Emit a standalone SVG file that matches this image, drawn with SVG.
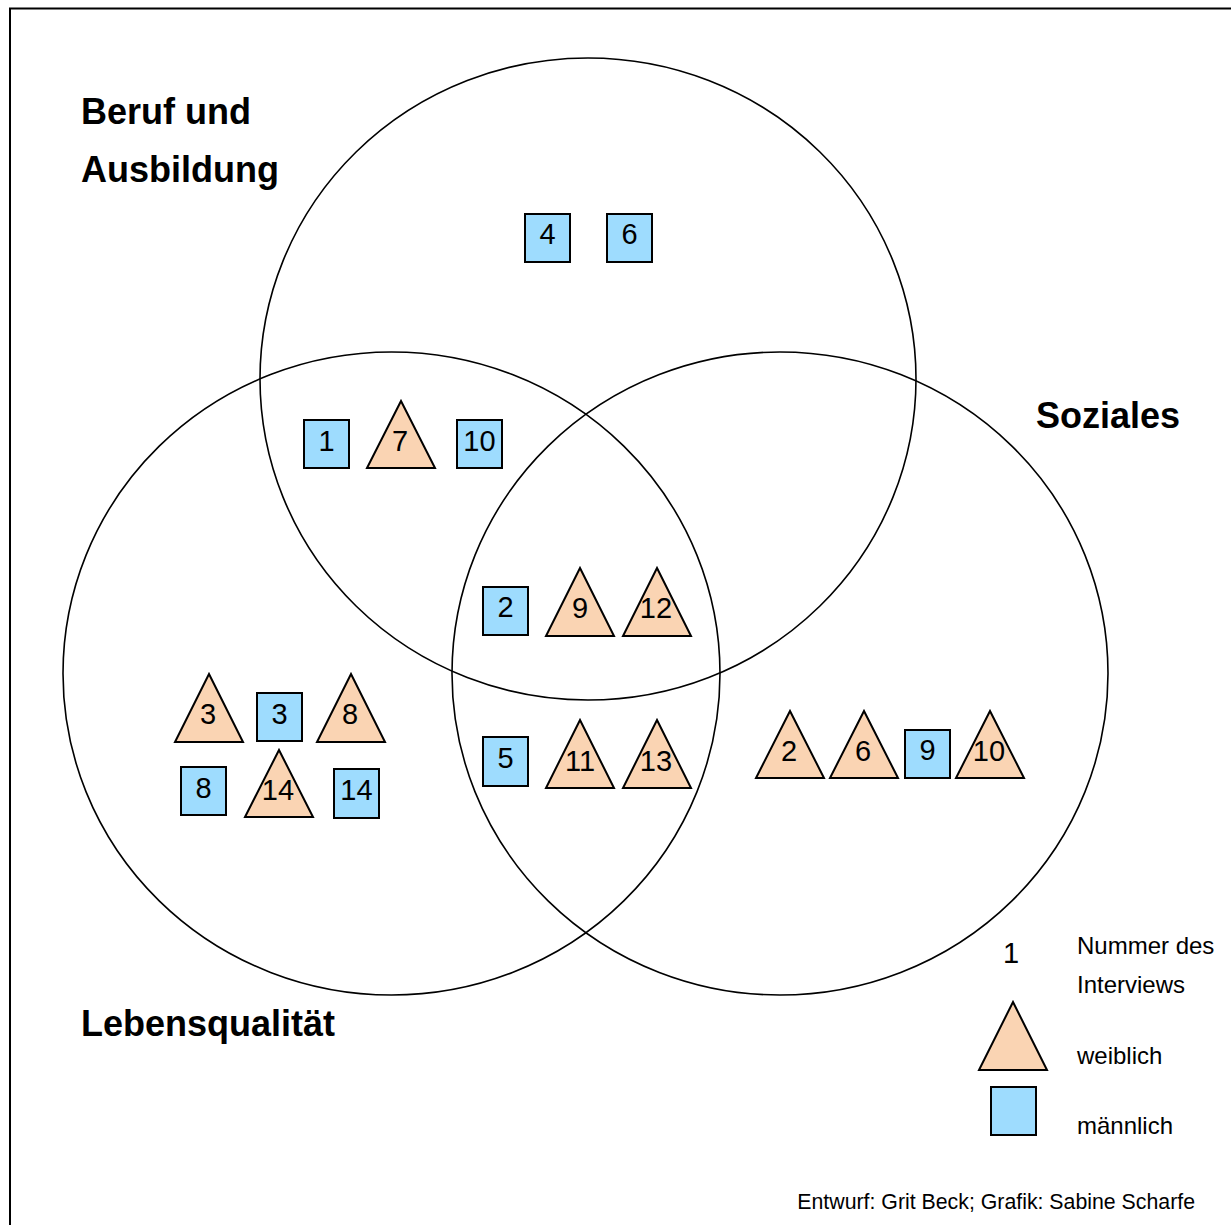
<svg xmlns="http://www.w3.org/2000/svg" width="1231" height="1225" viewBox="0 0 1231 1225">
<defs>
<style>
.frame{fill:none;stroke:#000;stroke-width:2}
.circ{fill:none;stroke:#000;stroke-width:1.6}
.w{fill:#fad4b3;stroke:#000;stroke-width:2;stroke-linejoin:miter}
.m{fill:#9edcfe;stroke:#000;stroke-width:2}
.num{font-family:"Liberation Sans",Arial,sans-serif;font-size:29px;fill:#000;text-anchor:middle}
.title{font-family:"Liberation Sans",Arial,sans-serif;font-size:36px;font-weight:bold;fill:#000}
.leg{font-family:"Liberation Sans",Arial,sans-serif;font-size:24px;fill:#000}
.foot{font-family:"Liberation Sans",Arial,sans-serif;font-size:21.3px;fill:#000;text-anchor:end}
</style>
</defs>
<rect width="1231" height="1225" fill="#fff"/>
<path class="frame" d="M10,1226 V8.5 H1232"/>
<g id="circles">
<ellipse id="c-beruf" class="circ" cx="588" cy="379" rx="328" ry="321"/>
<ellipse id="c-leben" class="circ" cx="391.5" cy="673.5" rx="328.5" ry="321.5"/>
<ellipse id="c-sozial" class="circ" cx="780" cy="673.5" rx="328" ry="321.5"/>
</g>
<g id="titles">
<text class="title" x="81" y="124">Beruf und</text>
<text class="title" x="81" y="182">Ausbildung</text>
<text class="title" x="1036" y="428">Soziales</text>
<text class="title" x="81" y="1036">Lebensqualität</text>
</g>
<g id="connectors"></g>
<g id="m4"><rect class="m" x="525" y="214" width="45" height="48"/><text class="num" x="547.5" y="244">4</text></g>
<g id="m6"><rect class="m" x="607" y="214" width="45" height="48"/><text class="num" x="629.5" y="244">6</text></g>
<g id="m1"><rect class="m" x="304" y="420" width="45" height="48"/><text class="num" x="326.5" y="451">1</text></g>
<g id="w7"><polygon class="w" points="401,401 435,468 367,468"/><text class="num" x="400" y="451">7</text></g>
<g id="m10"><rect class="m" x="457" y="420" width="45" height="48"/><text class="num" x="479.5" y="451">10</text></g>
<g id="m2"><rect class="m" x="483" y="587" width="45" height="48"/><text class="num" x="505.5" y="617">2</text></g>
<g id="w9"><polygon class="w" points="580,568 614,636 546,636"/><text class="num" x="580" y="618">9</text></g>
<g id="w12"><polygon class="w" points="657,568 691,636 623,636"/><text class="num" x="656" y="618">12</text></g>
<g id="w3"><polygon class="w" points="209,674 243,742 175,742"/><text class="num" x="208" y="724">3</text></g>
<g id="m3"><rect class="m" x="257" y="693" width="45" height="48"/><text class="num" x="279.5" y="724">3</text></g>
<g id="w8"><polygon class="w" points="351,674 385,742 317,742"/><text class="num" x="350" y="724">8</text></g>
<g id="m8"><rect class="m" x="181" y="767" width="45" height="48"/><text class="num" x="203.5" y="798">8</text></g>
<g id="w14"><polygon class="w" points="279,750 313,817 245,817"/><text class="num" x="278" y="800">14</text></g>
<g id="m14"><rect class="m" x="334" y="769" width="45" height="49"/><text class="num" x="356.5" y="800">14</text></g>
<g id="m5"><rect class="m" x="483" y="737" width="45" height="49"/><text class="num" x="505.5" y="768">5</text></g>
<g id="w11"><polygon class="w" points="580,720 614,788 546,788"/><text class="num" x="580" y="771">11</text></g>
<g id="w13"><polygon class="w" points="657,720 691,788 623,788"/><text class="num" x="656" y="771">13</text></g>
<g id="w2r"><polygon class="w" points="790,711 824,778 756,778"/><text class="num" x="789" y="761">2</text></g>
<g id="w6r"><polygon class="w" points="864,711 898,778 830,778"/><text class="num" x="863" y="761">6</text></g>
<g id="m9r"><rect class="m" x="905" y="730" width="45" height="48"/><text class="num" x="927.5" y="760">9</text></g>
<g id="w10r"><polygon class="w" points="990,711 1024,778 956,778"/><text class="num" x="989" y="761">10</text></g>
<g id="legend">
<text class="num" x="1011" y="963">1</text>
<text class="leg" x="1077" y="954">Nummer des</text>
<text class="leg" x="1077" y="993">Interviews</text>
<polygon class="w" points="1013,1002 1047,1070 979,1070"/>
<text class="leg" x="1077" y="1064">weiblich</text>
<rect class="m" x="991" y="1087" width="45" height="48"/>
<text class="leg" x="1077" y="1134">männlich</text>
</g>
<text class="foot" x="1195" y="1209">Entwurf: Grit Beck; Grafik: Sabine Scharfe</text>
</svg>
